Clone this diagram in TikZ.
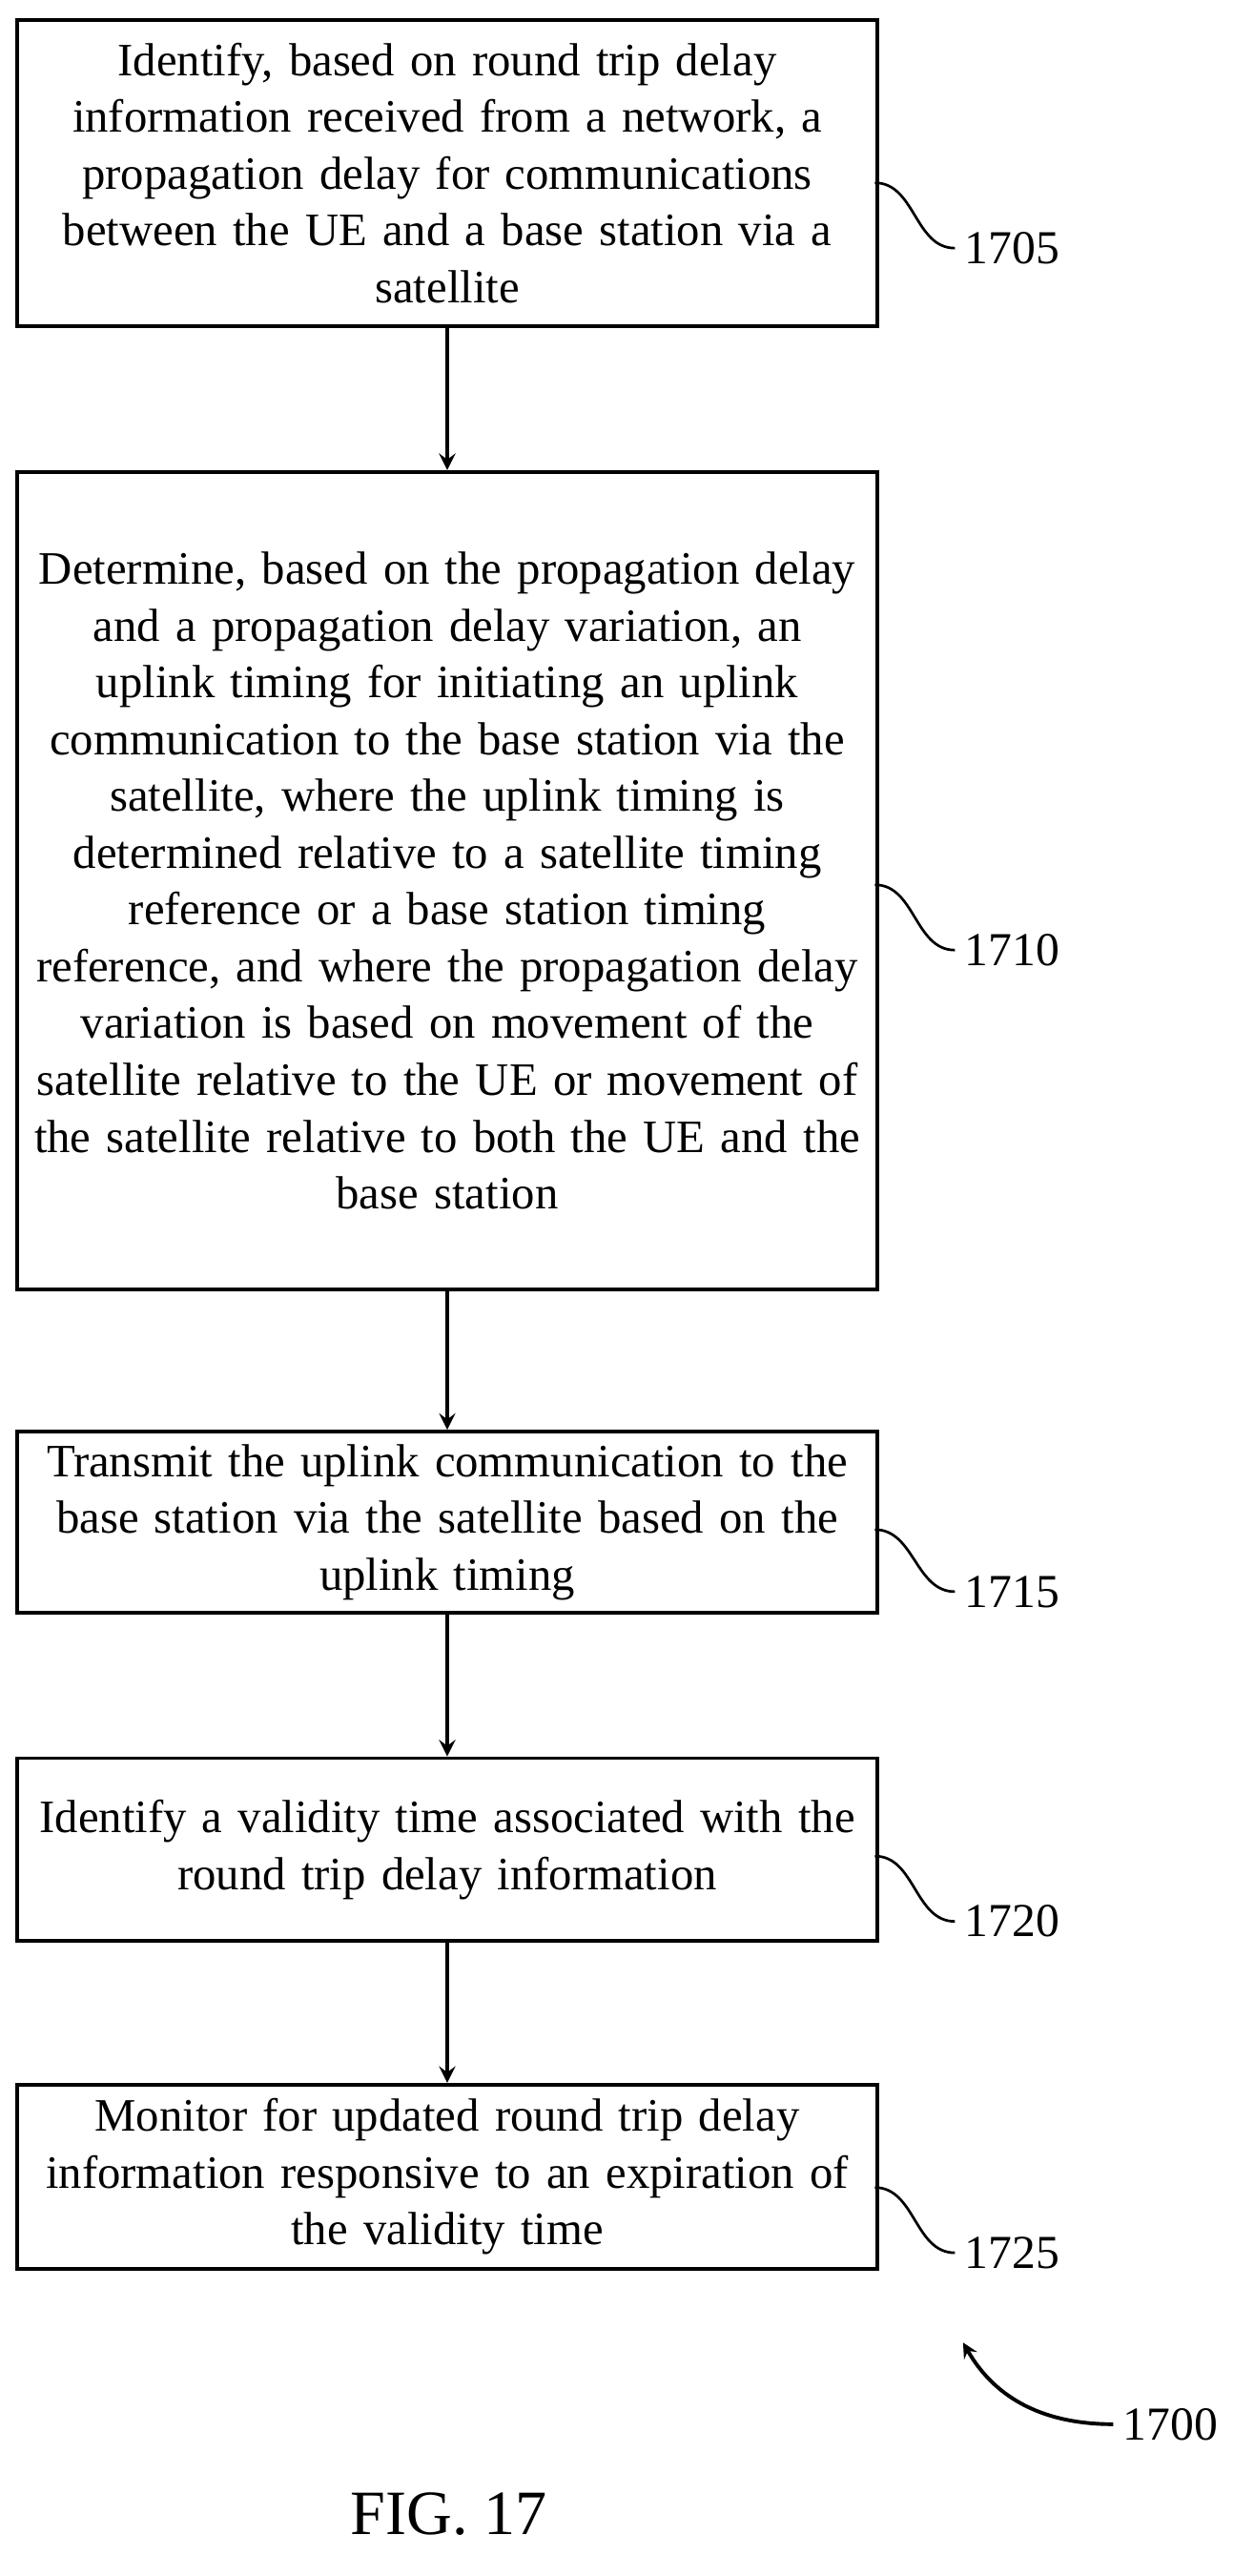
\documentclass[tikz,border=0pt]{standalone}
\usepackage{fontspec}
\setmainfont{Liberation Serif}
\usetikzlibrary{positioning}
\tikzset{
  stepbox/.style={draw,line width=1.3pt,minimum width=10.44cm,text width=10.3cm,align=center,font=\fontsize{16.2}{19.8}\selectfont},
  flow/.style={line width=1.5pt,-stealth},
  tag/.style={anchor=west,font=\fontsize{16.5}{19}\selectfont},
  squig/.style={line width=0.9pt}
}
\begin{document}
\begin{tikzpicture}[x=0.02cm,y=-0.02cm]
    \useasboundingbox (0,0) rectangle (768,1578);
    \node[stepbox,minimum height=3.76cm] (s1) at (274,106) {Identify, based on round trip delay\\ information received from a network, a\\ propagation delay for communications\\ between the UE and a base station via a\\ satellite};
    \node[stepbox,minimum height=10.02cm] (s2) at (274,539.5) {Determine, based on the propagation delay\\ and a propagation delay variation, an\\ uplink timing for initiating an uplink\\ communication to the base station via the\\ satellite, where the uplink timing is\\ determined relative to a satellite timing\\ reference or a base station timing\\ reference, and where the propagation delay\\ variation is based on movement of the\\ satellite relative to the UE or movement of\\ the satellite relative to both the UE and the\\ base station};
    \node[stepbox,minimum height=2.22cm] (s3) at (274,932.5) {Transmit the uplink communication to the\\ base station via the satellite based on the\\ uplink timing};
    \node[stepbox,minimum height=2.24cm] (s4) at (274,1133) {Identify a validity time associated with the\\ round trip delay information};
    \node[stepbox,minimum height=2.26cm] (s5) at (274,1333.5) {Monitor for updated round trip delay\\ information responsive to an expiration of\\ the validity time};
    % step arrows
    \draw[flow] (s1) -- (s2);
    \draw[flow] (s2) -- (s3);
    \draw[flow] (s3) -- (s4);
    \draw[flow] (s4) -- (s5);
    % reference numerals
    \node[tag] (n1) at (585,152) {1705};
    \node[tag] (n2) at (585,582) {1710};
    \node[tag] (n3) at (585,975) {1715};
    \node[tag] (n4) at (585,1177) {1720};
    \node[tag] (n5) at (585,1380) {1725};
    \draw[squig] (536,112) to[out=0,in=180] (n1.west);
    \draw[squig] (536,542) to[out=0,in=180] (n2.west);
    \draw[squig] (536,937) to[out=0,in=180] (n3.west);
    \draw[squig] (536,1137) to[out=0,in=180] (n4.west);
    \draw[squig] (536,1340) to[out=0,in=180] (n5.west);
    \node[tag] (fig) at (682,1485) {1700};
    \draw[line width=1.3pt,-stealth] (fig.west) to[out=180,in=300] (590,1435);
    \node[font=\fontsize{22}{26}\selectfont] (title) at (275,1540) {FIG. 17};
\end{tikzpicture}
\end{document}
